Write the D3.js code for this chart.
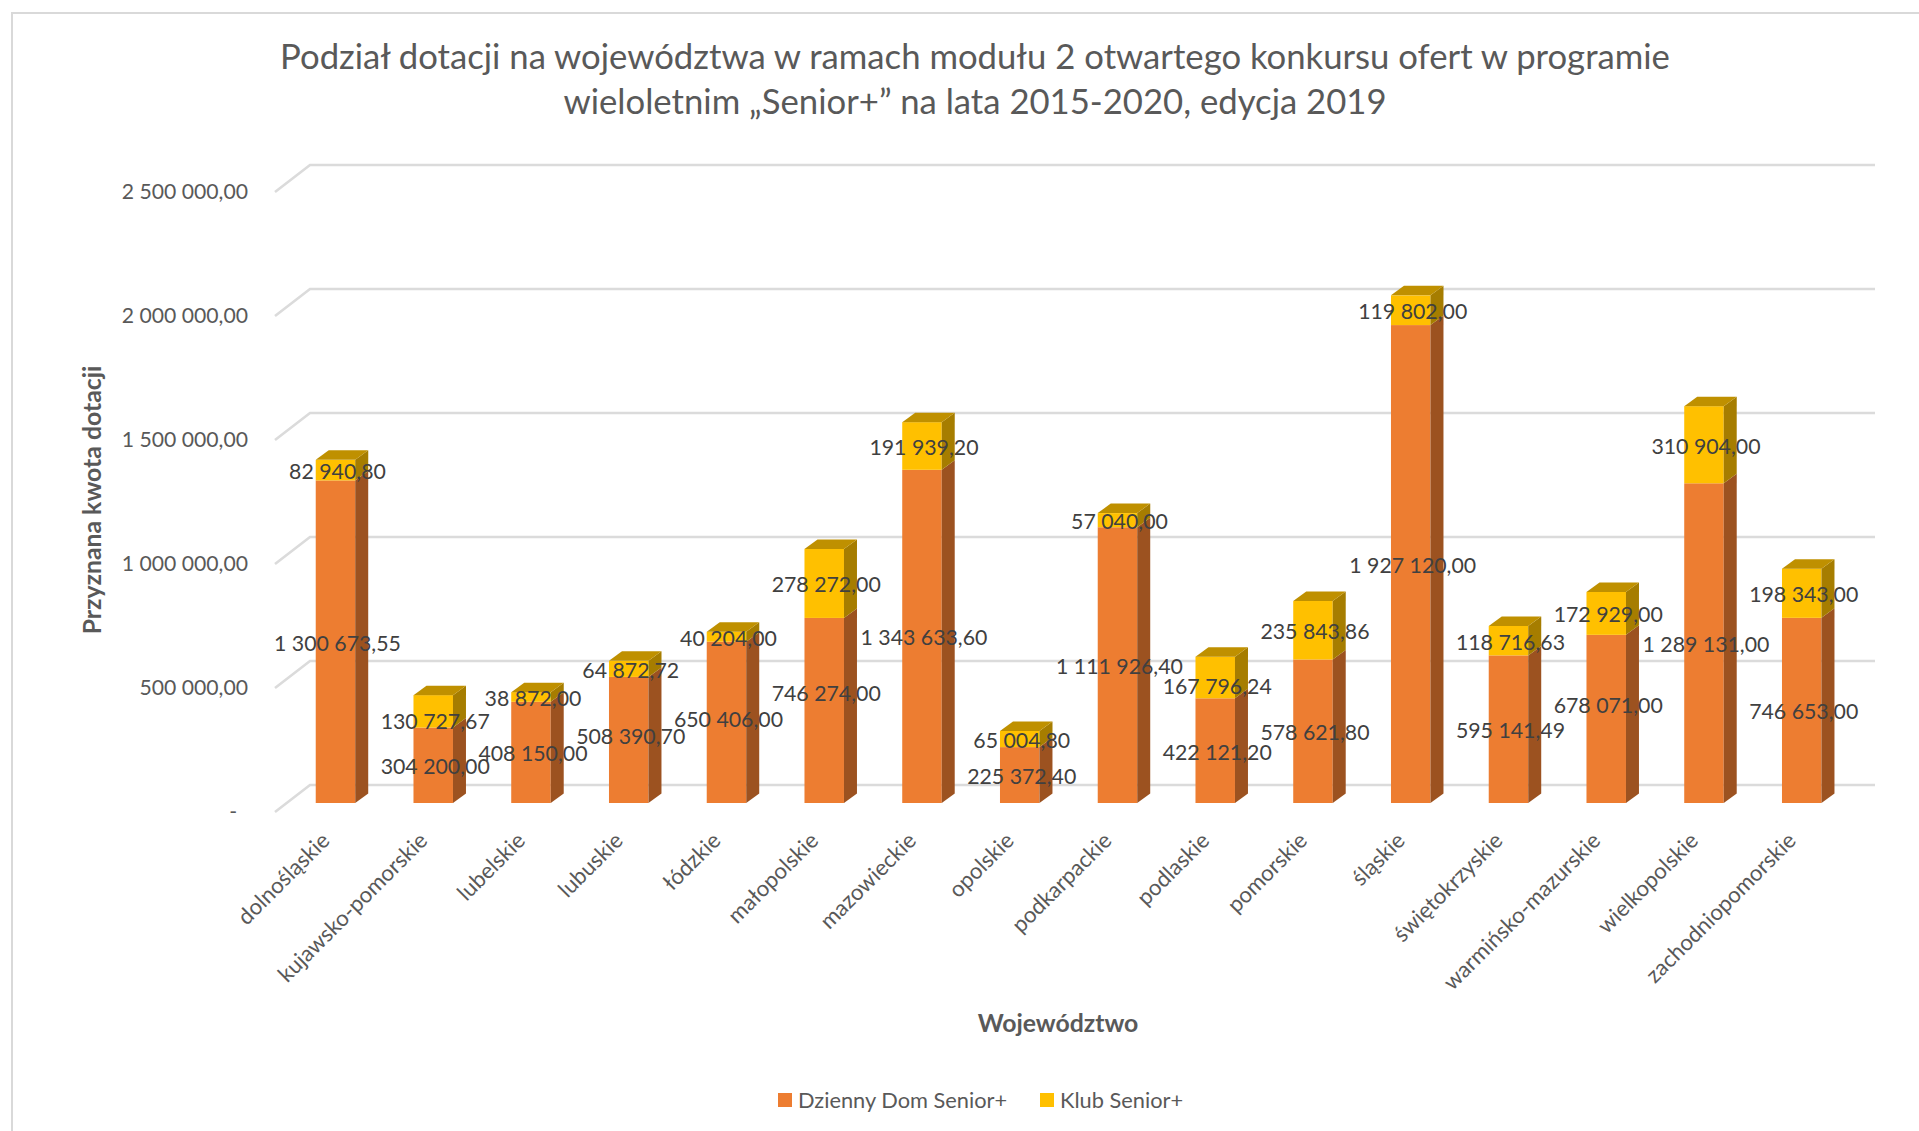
<!DOCTYPE html>
<html lang="pl">
<head>
<meta charset="utf-8">
<title>Senior+ 2019</title>
<script src="https://cdn.jsdelivr.net/npm/d3@7"></script>
<style>
    body { margin: 0; background: #fff; }
    text { font-family: Lato, "Open Sans", sans-serif; }
</style>
</head>
<body>
<div id="chart"></div>
<script>
// Data
var categories = ["dolnośląskie", "kujawsko-pomorskie", "lubelskie", "lubuskie", "łódzkie",
    "małopolskie", "mazowieckie", "opolskie", "podkarpackie", "podlaskie", "pomorskie",
    "śląskie", "świętokrzyskie", "warmińsko-mazurskie", "wielkopolskie", "zachodniopomorskie"];
var dziennyDom = [1300673.55, 304200, 408150, 508390.70, 650406, 746274, 1343633.60, 225372.40,
    1111926.40, 422121.20, 578621.80, 1927120, 595141.49, 678071, 1289131, 746653];
var klubSenior = [82940.80, 130727.67, 38872, 64872.72, 40204, 278272, 191939.20, 65004.80,
    57040, 167796.24, 235843.86, 119802, 118716.63, 172929, 310904, 198343];
var yTicks = [0, 500000, 1000000, 1500000, 2000000, 2500000];
var seriesNames = ["Dzienny Dom Senior+", "Klub Senior+"];
var titleLines = ["Podział dotacji na województwa w ramach modułu 2 otwartego konkursu ofert w programie",
    "wieloletnim „Senior+” na lata 2015-2020, edycja 2019"];

// A few data labels were dragged by hand in the original: index -> pixels
var domLabelShift = { 3: -5, 4: -4, 5: -18, 13: -15 };
var klubLabelShift = { 1: 9, 9: 8 };

var width = 1919;
var height = 1131;

var wallDx = 35, wallFront = 9, wallBack = 18; // depth of the back wall
var barDx = 13, barDy = 9.5;                   // depth of a single bar

var colors = { dom: "#ED7D31", domSide: "#9C5220", klub: "#FFC000", klubSide: "#A67D00", klubTop: "#BF9000" };

var svg = d3.select("#chart").append("svg")
    .attr("width", width)
    .attr("height", height);

svg.append("rect")
    .attr("width", width).attr("height", height)
    .attr("fill", "#fff");

// chart frame, runs off the right and bottom of the picture
svg.append("path")
    .attr("d", "M12," + height + "V13H" + width)
    .attr("fill", "none")
    .attr("stroke", "#D9D9D9")
    .attr("stroke-width", 2);

var x = d3.scaleBand()
    .domain(categories)
    .range([286.6, 1850.6])
    .paddingInner(0.596)
    .paddingOuter(0.298);

var y = d3.scaleLinear()
    .domain([0, 2500000])
    .range([803, 183]);

var pl = d3.formatLocale({ decimal: ",", thousands: " ", grouping: [3], currency: ["", ""] });
var fmt = pl.format(",.2f");

// Gridlines on the wall
var grid = svg.append("g").attr("fill", "none").attr("stroke", "#DBDBDB").attr("stroke-width", 2.6);
grid.selectAll("path")
    .data(yTicks)
  .enter().append("path")
    .attr("d", function(d) {
        return "M275," + (y(d) + wallFront) + "L" + (275 + wallDx) + "," + (y(d) - wallBack) + "H1875";
    });

// Y axis labels
var yAxis = d3.axisLeft(y)
    .tickValues(yTicks)
    .tickSize(0)
    .tickPadding(0)
    .tickFormat(function(d) { return d === 0 ? "-" : fmt(d); });

svg.append("g")
    .attr("class", "y-axis")
    .attr("transform", "translate(248," + wallFront + ")")
    .call(yAxis)
    .call(function(g) { g.select(".domain").remove(); })
    .selectAll("text")
    .attr("x", function(d) { return d === 0 ? -11 : 0; })
    .attr("fill", "#595959")
    .style("font-family", "Lato")
    .style("font-size", "21.2px");

// Bars
var rows = categories.map(function(c, i) {
    return { name: c, dom: dziennyDom[i], klub: klubSenior[i], i: i };
});

var bar = svg.selectAll(".bar")
    .data(rows)
  .enter().append("g")
    .attr("class", "bar");

function sidePath(d, v0, v1) {
    var r = x(d.name) + x.bandwidth();
    return "M" + r + "," + y(v0) + "V" + y(v1) +
        "l" + barDx + "," + (-barDy) + "V" + (y(v0) - barDy) + "Z";
}

bar.append("rect")
    .attr("x", function(d) { return x(d.name); })
    .attr("y", function(d) { return y(d.dom); })
    .attr("width", x.bandwidth())
    .attr("height", function(d) { return y(0) - y(d.dom); })
    .attr("fill", colors.dom);

bar.append("path")
    .attr("d", function(d) { return sidePath(d, 0, d.dom); })
    .attr("fill", colors.domSide);

bar.append("rect")
    .attr("x", function(d) { return x(d.name); })
    .attr("y", function(d) { return y(d.dom + d.klub); })
    .attr("width", x.bandwidth())
    .attr("height", function(d) { return y(d.dom) - y(d.dom + d.klub); })
    .attr("fill", colors.klub);

bar.append("path")
    .attr("d", function(d) { return sidePath(d, d.dom, d.dom + d.klub); })
    .attr("fill", colors.klubSide);

bar.append("path")
    .attr("d", function(d) {
        return "M" + x(d.name) + "," + y(d.dom + d.klub) +
            "l" + barDx + "," + (-barDy) + "h" + x.bandwidth() +
            "l" + (-barDx) + "," + barDy + "Z";
    })
    .attr("fill", colors.klubTop);

// Data labels
function addLabels(value, mid, shift) {
    svg.append("g").selectAll("text")
        .data(rows)
      .enter().append("text")
        .attr("x", function(d) { return x(d.name) + x.bandwidth() / 2 + 2; })
        .attr("y", function(d) { return y(mid(d)) + 1.5 + (shift[d.i] || 0); })
        .attr("dy", "0.35em")
        .attr("text-anchor", "middle")
        .attr("fill", "#404040")
        .style("font-size", "21.3px")
        .text(function(d) { return fmt(value(d)); });
}
addLabels(function(d) { return d.dom; }, function(d) { return d.dom / 2; }, domLabelShift);
addLabels(function(d) { return d.klub; }, function(d) { return d.dom + d.klub / 2; }, klubLabelShift);

// Category labels
svg.append("g").selectAll("text")
    .data(categories)
  .enter().append("text")
    .attr("transform", function(d) {
        return "translate(" + (x(d) + x.bandwidth() / 2 - 4.5) + ",842) rotate(-45)";
    })
    .attr("text-anchor", "end")
    .attr("fill", "#595959")
    .style("font-size", "22.2px")
    .text(function(d) { return d; });

// Title
svg.append("g").selectAll("text")
    .data(titleLines)
  .enter().append("text")
    .attr("x", 975)
    .attr("y", function(d, i) { return 69 + i * 45; })
    .attr("text-anchor", "middle")
    .attr("fill", "#595959")
    .style("font-size", "34.7px")
    .text(function(d) { return d; });

// Axis titles
svg.append("text")
    .attr("transform", "translate(101,500) rotate(-90)")
    .attr("text-anchor", "middle")
    .attr("fill", "#595959")
    .style("font-size", "24.8px")
    .style("font-weight", 700)
    .text("Przyznana kwota dotacji");

svg.append("text")
    .attr("x", 1058)
    .attr("y", 1032)
    .attr("text-anchor", "middle")
    .attr("fill", "#595959")
    .style("font-size", "24.8px")
    .style("font-weight", 700)
    .text("Województwo");

// Legend
var legend = svg.append("g").selectAll("g")
    .data(seriesNames)
  .enter().append("g")
    .attr("transform", function(d, i) { return "translate(" + [778, 1040][i] + ",1093)"; });

legend.append("rect")
    .attr("width", 14)
    .attr("height", 14)
    .attr("fill", function(d, i) { return [colors.dom, colors.klub][i]; });

legend.append("text")
    .attr("x", 20)
    .attr("y", 15)
    .attr("fill", "#595959")
    .style("font-size", "21.8px")
    .text(function(d) { return d; });
</script>
</body>
</html>
